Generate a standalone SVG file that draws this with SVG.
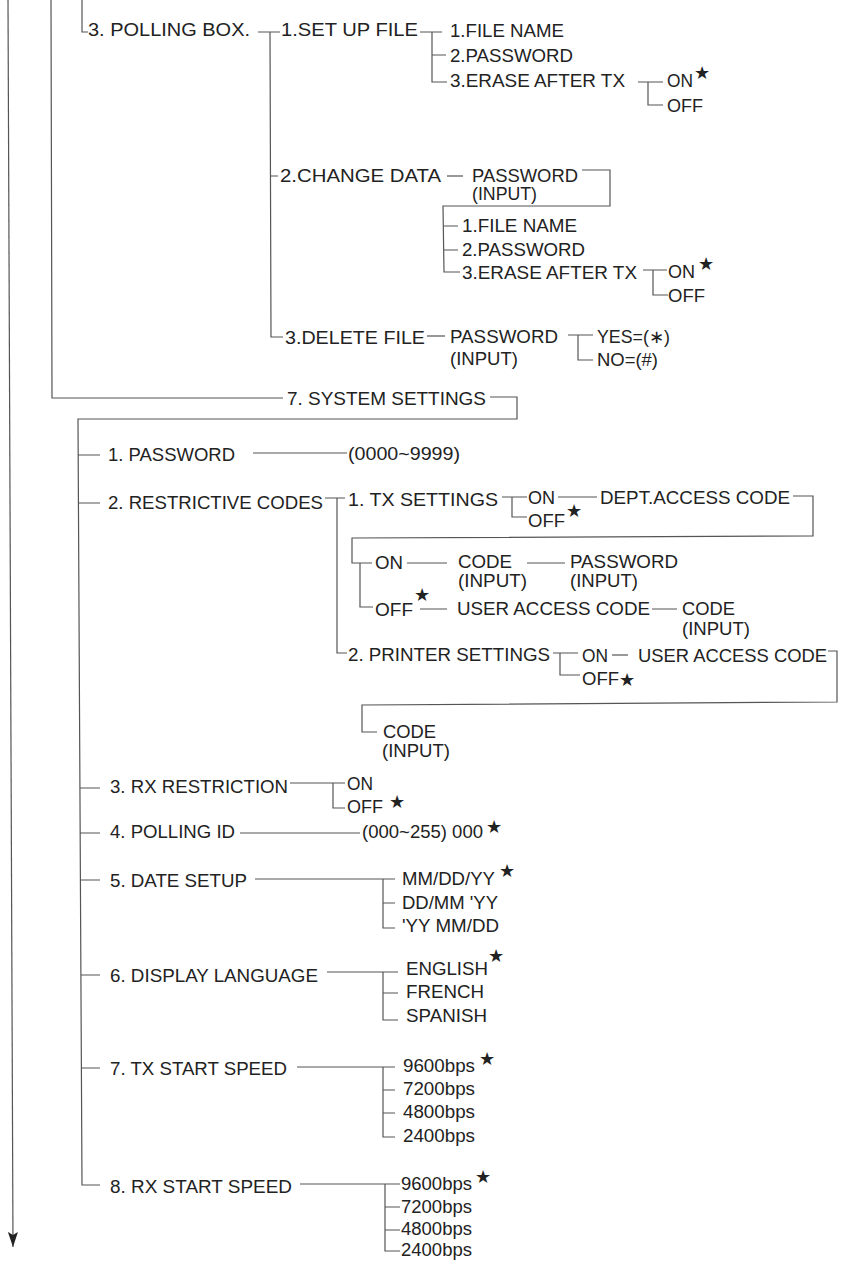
<svg xmlns="http://www.w3.org/2000/svg" width="841" height="1261" viewBox="0 0 841 1261">
<style>
.t{font-family:"Liberation Sans",Arial,sans-serif;font-size:17.5px;fill:#222}
.s{font-family:"DejaVu Sans",sans-serif;font-size:18px;fill:#222;text-anchor:middle}
.c{fill:none;stroke:#555;stroke-width:1.2}
</style>
<defs>
<marker id="ah" markerWidth="15" markerHeight="10" refX="15" refY="5" orient="auto" markerUnits="userSpaceOnUse" viewBox="0 0 15 10">
<path d="M0,0 L15,5 L0,10 L3,5 Z" fill="#222"/>
</marker>
</defs>
<rect width="841" height="1261" fill="#fff"/>
<g id="connectors">
<path class="c" d="M8,0 L13,1247" marker-end="url(#ah)"/>
<path class="c" d="M51,0 L52,398 L283,398"/>
<path class="c" d="M82,0 L82,32 L88,32"/>
<path class="c" d="M258,32 L280,32 M270,32 L271,337 L283,337 M270,176 L278,176"/>
<path class="c" d="M420,32 L442,32 M432,32 L432,82 L447,82 M432,55 L446,55"/>
<path class="c" d="M638,82 L663,82 M648,82 L648,105 L663,105"/>
<path class="c" d="M447,176 L463,176"/>
<path class="c" d="M582,170 L610,170 L610,206 L443,206 L444,272 L460,272 M444,226 L458,226 M444,250 L458,250"/>
<path class="c" d="M643,270 L667,270 M653,270 L653,295 L668,295"/>
<path class="c" d="M427,336 L445,336"/>
<path class="c" d="M568,335 L593,335 M578,335 L578,360 L593,360"/>
<path class="c" d="M490,397 L517,397 L517,419 L78,419 L82,1185 L100,1185"/>
<path class="c" d="M78,455 L100,455 M78,503 L100,503 M80,788 L100,788 M80,833 L100,833 M80,880 L100,880 M81,975 L100,975 M81,1068 L100,1068"/>
<path class="c" d="M253,453 L347,453"/>
<path class="c" d="M325,498 L345,498 M337,498 L337,653 L347,653"/>
<path class="c" d="M502,497 L527,497 M512,497 L512,517 L527,517"/>
<path class="c" d="M558,497 L597,497"/>
<path class="c" d="M793,496 L813,496 L813,536 L352,538 L352,563 L372,563 M360,563 L360,607 L373,607"/>
<path class="c" d="M407,563 L447,563 M527,563 L565,563"/>
<path class="c" d="M420,609 L447,609 M652,609 L677,609"/>
<path class="c" d="M553,653 L578,653 M560,653 L560,675 L580,675"/>
<path class="c" d="M612,655 L628,655"/>
<path class="c" d="M828,651 L837,651 L837,702 L362,705 L362,732 L377,732"/>
<path class="c" d="M290,783 L345,783 M333,783 L333,808 L345,808"/>
<path class="c" d="M240,833 L360,833"/>
<path class="c" d="M255,879 L395,879 M383,879 L383,928 L395,928 M383,903 L395,903"/>
<path class="c" d="M327,972 L398,972 M383,972 L383,1020 L398,1020 M383,993 L398,993"/>
<path class="c" d="M297,1067 L395,1067 M383,1067 L383,1137 L395,1137 M383,1090 L395,1090 M383,1113 L395,1113"/>
<path class="c" d="M300,1184 L400,1184 M385,1184 L385,1251 L400,1251 M385,1207 L400,1207 M385,1230 L400,1230"/>
</g>
<g id="n-polling-box"><text class="t" x="88" y="36" textLength="162" lengthAdjust="spacingAndGlyphs">3. POLLING BOX.</text></g>
<g id="n-setup-file"><text class="t" x="281" y="36" textLength="137" lengthAdjust="spacingAndGlyphs">1.SET UP FILE</text></g>
<g id="n-su-filename"><text class="t" x="450" y="37" textLength="114" lengthAdjust="spacingAndGlyphs">1.FILE NAME</text></g>
<g id="n-su-password"><text class="t" x="450" y="62" textLength="123" lengthAdjust="spacingAndGlyphs">2.PASSWORD</text></g>
<g id="n-su-erase"><text class="t" x="450" y="87" textLength="175" lengthAdjust="spacingAndGlyphs">3.ERASE AFTER TX</text></g>
<g id="n-su-on"><text class="t" x="667" y="87" textLength="26" lengthAdjust="spacingAndGlyphs">ON</text><text class="s" x="702" y="79">★</text></g>
<g id="n-su-off"><text class="t" x="667" y="112" textLength="36" lengthAdjust="spacingAndGlyphs">OFF</text></g>
<g id="n-change-data"><text class="t" x="280" y="182" textLength="161" lengthAdjust="spacingAndGlyphs">2.CHANGE DATA</text></g>
<g id="n-cd-password"><text class="t" x="472" y="182" textLength="106" lengthAdjust="spacingAndGlyphs">PASSWORD</text><text class="t" x="472" y="200" textLength="65" lengthAdjust="spacingAndGlyphs">(INPUT)</text></g>
<g id="n-cd-filename"><text class="t" x="462" y="232" textLength="115" lengthAdjust="spacingAndGlyphs">1.FILE NAME</text></g>
<g id="n-cd-password2"><text class="t" x="462" y="256" textLength="123" lengthAdjust="spacingAndGlyphs">2.PASSWORD</text></g>
<g id="n-cd-erase"><text class="t" x="462" y="279" textLength="175" lengthAdjust="spacingAndGlyphs">3.ERASE AFTER TX</text></g>
<g id="n-cd-on"><text class="t" x="668" y="278" textLength="27" lengthAdjust="spacingAndGlyphs">ON</text><text class="s" x="706" y="270">★</text></g>
<g id="n-cd-off"><text class="t" x="668" y="302" textLength="37" lengthAdjust="spacingAndGlyphs">OFF</text></g>
<g id="n-delete-file"><text class="t" x="285" y="344" textLength="140" lengthAdjust="spacingAndGlyphs">3.DELETE FILE</text></g>
<g id="n-df-password"><text class="t" x="450" y="343" textLength="108" lengthAdjust="spacingAndGlyphs">PASSWORD</text><text class="t" x="450" y="365" textLength="68" lengthAdjust="spacingAndGlyphs">(INPUT)</text></g>
<g id="n-df-yes"><text class="t" x="597" y="343" textLength="73" lengthAdjust="spacingAndGlyphs">YES=(∗)</text></g>
<g id="n-df-no"><text class="t" x="597" y="366" textLength="61" lengthAdjust="spacingAndGlyphs">NO=(#)</text></g>
<g id="n-system-settings"><text class="t" x="287" y="405" textLength="199" lengthAdjust="spacingAndGlyphs">7. SYSTEM SETTINGS</text></g>
<g id="n-password"><text class="t" x="108" y="461" textLength="127" lengthAdjust="spacingAndGlyphs">1. PASSWORD</text></g>
<g id="n-password-range"><text class="t" x="348" y="460" textLength="112" lengthAdjust="spacingAndGlyphs">(0000~9999)</text></g>
<g id="n-restrictive"><text class="t" x="108" y="509" textLength="215" lengthAdjust="spacingAndGlyphs">2. RESTRICTIVE CODES</text></g>
<g id="n-tx-settings"><text class="t" x="348" y="506" textLength="150" lengthAdjust="spacingAndGlyphs">1. TX SETTINGS</text></g>
<g id="n-tx-on"><text class="t" x="528" y="504" textLength="27" lengthAdjust="spacingAndGlyphs">ON</text></g>
<g id="n-tx-off"><text class="t" x="528" y="527" textLength="37" lengthAdjust="spacingAndGlyphs">OFF</text><text class="s" x="574" y="517">★</text></g>
<g id="n-dept-code"><text class="t" x="600" y="504" textLength="190" lengthAdjust="spacingAndGlyphs">DEPT.ACCESS CODE</text></g>
<g id="n-dept-on"><text class="t" x="375" y="569" textLength="28" lengthAdjust="spacingAndGlyphs">ON</text></g>
<g id="n-dept-code-input"><text class="t" x="458" y="568" textLength="54" lengthAdjust="spacingAndGlyphs">CODE</text><text class="t" x="458" y="587" textLength="69" lengthAdjust="spacingAndGlyphs">(INPUT)</text></g>
<g id="n-dept-pass-input"><text class="t" x="570" y="568" textLength="108" lengthAdjust="spacingAndGlyphs">PASSWORD</text><text class="t" x="570" y="587" textLength="68" lengthAdjust="spacingAndGlyphs">(INPUT)</text></g>
<g id="n-dept-off"><text class="t" x="375" y="616" textLength="38" lengthAdjust="spacingAndGlyphs">OFF</text><text class="s" x="422" y="601">★</text></g>
<g id="n-user-code1"><text class="t" x="457" y="615" textLength="193" lengthAdjust="spacingAndGlyphs">USER ACCESS CODE</text></g>
<g id="n-user-code1-input"><text class="t" x="682" y="615" textLength="53" lengthAdjust="spacingAndGlyphs">CODE</text><text class="t" x="682" y="635" textLength="68" lengthAdjust="spacingAndGlyphs">(INPUT)</text></g>
<g id="n-printer-settings"><text class="t" x="348" y="661" textLength="202" lengthAdjust="spacingAndGlyphs">2. PRINTER SETTINGS</text></g>
<g id="n-pr-on"><text class="t" x="582" y="662" textLength="26" lengthAdjust="spacingAndGlyphs">ON</text></g>
<g id="n-pr-user-code"><text class="t" x="638" y="662" textLength="189" lengthAdjust="spacingAndGlyphs">USER ACCESS CODE</text></g>
<g id="n-pr-off"><text class="t" x="582" y="685" textLength="37" lengthAdjust="spacingAndGlyphs">OFF</text><text class="s" x="627" y="686">★</text></g>
<g id="n-pr-code-input"><text class="t" x="383" y="738" textLength="53" lengthAdjust="spacingAndGlyphs">CODE</text><text class="t" x="382" y="757" textLength="68" lengthAdjust="spacingAndGlyphs">(INPUT)</text></g>
<g id="n-rx-restriction"><text class="t" x="110" y="793" textLength="178" lengthAdjust="spacingAndGlyphs">3. RX RESTRICTION</text></g>
<g id="n-rx-on"><text class="t" x="347" y="790" textLength="26" lengthAdjust="spacingAndGlyphs">ON</text></g>
<g id="n-rx-off"><text class="t" x="347" y="813" textLength="36" lengthAdjust="spacingAndGlyphs">OFF</text><text class="s" x="397" y="808">★</text></g>
<g id="n-polling-id"><text class="t" x="110" y="838" textLength="125" lengthAdjust="spacingAndGlyphs">4. POLLING ID</text></g>
<g id="n-polling-range"><text class="t" x="362" y="838" textLength="121" lengthAdjust="spacingAndGlyphs">(000~255) 000</text><text class="s" x="494" y="833">★</text></g>
<g id="n-date-setup"><text class="t" x="110" y="887" textLength="137" lengthAdjust="spacingAndGlyphs">5. DATE SETUP</text></g>
<g id="n-date-1"><text class="t" x="402" y="885" textLength="93" lengthAdjust="spacingAndGlyphs">MM/DD/YY</text><text class="s" x="507" y="877">★</text></g>
<g id="n-date-2"><text class="t" x="402" y="909" textLength="96" lengthAdjust="spacingAndGlyphs">DD/MM 'YY</text></g>
<g id="n-date-3"><text class="t" x="402" y="932" textLength="97" lengthAdjust="spacingAndGlyphs">'YY MM/DD</text></g>
<g id="n-display-language"><text class="t" x="110" y="982" textLength="208" lengthAdjust="spacingAndGlyphs">6. DISPLAY LANGUAGE</text></g>
<g id="n-lang-en"><text class="t" x="406" y="975" textLength="82" lengthAdjust="spacingAndGlyphs">ENGLISH</text><text class="s" x="496" y="962">★</text></g>
<g id="n-lang-fr"><text class="t" x="406" y="998" textLength="78" lengthAdjust="spacingAndGlyphs">FRENCH</text></g>
<g id="n-lang-es"><text class="t" x="406" y="1022" textLength="81" lengthAdjust="spacingAndGlyphs">SPANISH</text></g>
<g id="n-tx-speed"><text class="t" x="110" y="1075" textLength="177" lengthAdjust="spacingAndGlyphs">7. TX START SPEED</text></g>
<g id="n-tx-9600"><text class="t" x="403" y="1072" textLength="72" lengthAdjust="spacingAndGlyphs">9600bps</text><text class="s" x="487" y="1065">★</text></g>
<g id="n-tx-7200"><text class="t" x="403" y="1095" textLength="72" lengthAdjust="spacingAndGlyphs">7200bps</text></g>
<g id="n-tx-4800"><text class="t" x="403" y="1118" textLength="72" lengthAdjust="spacingAndGlyphs">4800bps</text></g>
<g id="n-tx-2400"><text class="t" x="403" y="1142" textLength="72" lengthAdjust="spacingAndGlyphs">2400bps</text></g>
<g id="n-rx-speed"><text class="t" x="110" y="1193" textLength="182" lengthAdjust="spacingAndGlyphs">8. RX START SPEED</text></g>
<g id="n-rx-9600"><text class="t" x="401" y="1190" textLength="71" lengthAdjust="spacingAndGlyphs">9600bps</text><text class="s" x="483" y="1183">★</text></g>
<g id="n-rx-7200"><text class="t" x="401" y="1213" textLength="71" lengthAdjust="spacingAndGlyphs">7200bps</text></g>
<g id="n-rx-4800"><text class="t" x="401" y="1235" textLength="71" lengthAdjust="spacingAndGlyphs">4800bps</text></g>
<g id="n-rx-2400"><text class="t" x="401" y="1256" textLength="71" lengthAdjust="spacingAndGlyphs">2400bps</text></g>
</svg>
